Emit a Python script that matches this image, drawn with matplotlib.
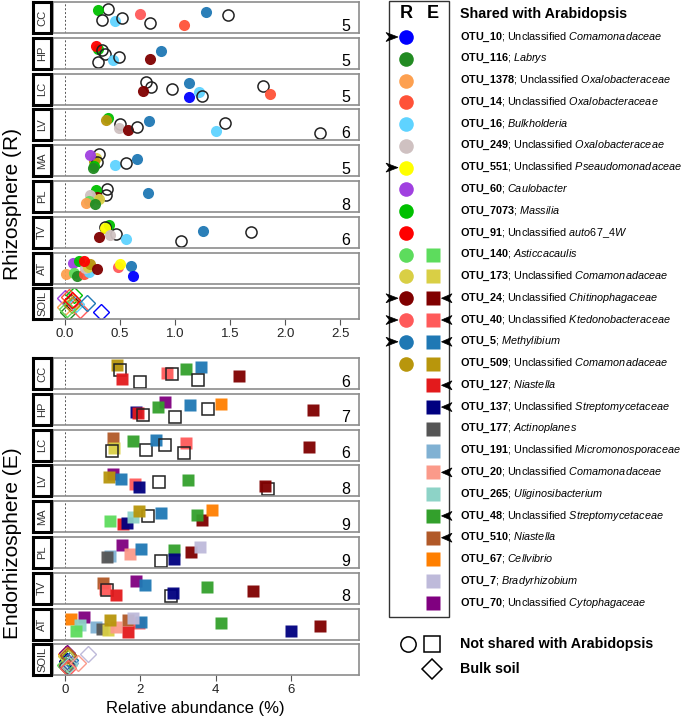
import numpy as np
import matplotlib
matplotlib.use("Agg")
import matplotlib.pyplot as plt
from matplotlib.patches import Rectangle, Polygon

plt.rcParams['font.family'] = 'Liberation Sans'
plt.rcParams['mathtext.fontset'] = 'custom'
plt.rcParams['mathtext.rm'] = 'Liberation Sans'
plt.rcParams['mathtext.it'] = 'Liberation Sans:italic'
plt.rcParams['mathtext.bf'] = 'Liberation Sans:bold'

# ---- data: (otu, relative abundance %, jitter within panel) ; "open" = not shared
sites = ["CC", "HP", "LC", "LV", "MA", "PL", "TV", "AT", "SOIL"]
r_counts = [5, 5, 5, 6, 5, 8, 6, None, None]
e_counts = [6, 7, 6, 8, 9, 9, 8, None, None]

R_CC = [("open", 0.39, 0.79), ("7073", 0.30, 0.73), ("open", 0.34, 0.43), ("16", 0.45, 0.38),
        ("open", 0.52, 0.49), ("40", 0.68, 0.61), ("open", 0.77, 0.31), ("14", 1.08, 0.27),
        ("5", 1.28, 0.67), ("open", 1.48, 0.57)]
R_HP = [("7073", 0.30, 0.65), ("91", 0.28, 0.73), ("open", 0.34, 0.62), ("open", 0.36, 0.47),
        ("open", 0.30, 0.23), ("16", 0.44, 0.28), ("open", 0.49, 0.39), ("24", 0.77, 0.33),
        ("5", 0.87, 0.56)]
R_LC = [("open", 0.74, 0.74), ("open", 0.78, 0.56), ("24", 0.71, 0.45), ("open", 0.97, 0.49),
        ("5", 1.13, 0.69), ("10", 1.13, 0.23), ("16", 1.22, 0.40), ("open", 1.24, 0.28),
        ("open", 1.80, 0.61), ("14", 1.86, 0.33)]
R_LV = [("7073", 0.39, 0.72), ("509", 0.37, 0.67), ("open", 0.50, 0.53), ("249", 0.49, 0.40),
        ("24", 0.57, 0.32), ("open", 0.65, 0.44), ("5", 0.76, 0.61), ("open", 1.45, 0.55),
        ("16", 1.37, 0.29), ("open", 2.32, 0.23)]
R_MA = [("open", 0.31, 0.73), ("173", 0.28, 0.58), ("509", 0.26, 0.50), ("open", 0.29, 0.45),
        ("7073", 0.26, 0.33), ("116", 0.25, 0.26), ("60", 0.23, 0.68), ("16", 0.45, 0.37),
        ("open", 0.55, 0.41), ("5", 0.65, 0.57)]
R_PL = [("open", 0.38, 0.74), ("open", 0.37, 0.56), ("7073", 0.28, 0.71), ("24", 0.29, 0.50),
        ("249", 0.23, 0.56), ("173", 0.31, 0.43), ("140", 0.22, 0.37), ("1378", 0.19, 0.30),
        ("116", 0.27, 0.25), ("5", 0.75, 0.62)]
R_TV = [("7073", 0.40, 0.73), ("open", 0.36, 0.68), ("551", 0.36, 0.64), ("open", 0.46, 0.46),
        ("249", 0.41, 0.41), ("24", 0.31, 0.35), ("16", 0.55, 0.28), ("open", 1.05, 0.23),
        ("5", 1.25, 0.55), ("open", 1.69, 0.51)]
R_AT = [("1378", 0.01, 0.30), ("60", 0.07, 0.68), ("140", 0.08, 0.34), ("116", 0.11, 0.23),
        ("7073", 0.13, 0.73), ("14", 0.17, 0.30), ("16", 0.22, 0.38), ("249", 0.18, 0.49),
        ("173", 0.21, 0.54), ("509", 0.23, 0.62), ("24", 0.29, 0.47), ("91", 0.17, 0.74),
        ("40", 0.48, 0.54), ("551", 0.50, 0.63), ("5", 0.60, 0.57), ("10", 0.62, 0.23)]
R_SOIL = [("60", 0.00, 0.70), ("7073", 0.08, 0.79), ("14", 0.04, 0.72), ("24", 0.05, 0.55),
          ("173", 0.08, 0.55), ("1378", 0.00, 0.40), ("116", 0.03, 0.25), ("40", 0.14, 0.30),
          ("16", 0.10, 0.50), ("509", 0.06, 0.45), ("5", 0.20, 0.52), ("10", 0.33, 0.23),
          ("140", 0.02, 0.35), ("91", 0.06, 0.62)]

E_CC = [("509", 1.37, 0.77), ("open", 1.46, 0.60), ("127", 1.50, 0.32), ("open", 1.99, 0.24),
        ("40", 2.71, 0.52), ("open", 2.85, 0.49), ("48", 3.20, 0.66), ("5", 3.62, 0.70),
        ("open", 3.52, 0.30), ("24", 4.62, 0.41)]
E_HP = [("70", 2.65, 0.75), ("48", 2.46, 0.57), ("137", 1.88, 0.42), ("127", 1.94, 0.37),
        ("open", 2.08, 0.31), ("open", 2.92, 0.26), ("5", 3.32, 0.65), ("open", 3.80, 0.52),
        ("67", 4.13, 0.68), ("24", 6.59, 0.47)]
E_LC = [("510", 1.27, 0.73), ("173", 1.30, 0.41), ("open", 1.25, 0.30), ("48", 1.81, 0.62),
        ("open", 2.15, 0.35), ("5", 2.40, 0.68), ("open", 2.64, 0.51), ("40", 3.22, 0.57),
        ("open", 3.16, 0.24), ("24", 6.47, 0.45)]
E_LV = [("70", 1.26, 0.71), ("509", 1.16, 0.61), ("5", 1.49, 0.56), ("40", 1.85, 0.40),
        ("137", 1.96, 0.29), ("open", 2.48, 0.46), ("48", 3.27, 0.52), ("open", 5.38, 0.24),
        ("24", 5.31, 0.35)]
E_MA = [("140", 1.19, 0.35), ("127", 1.53, 0.25), ("137", 1.64, 0.30), ("265", 1.80, 0.49),
        ("open", 2.19, 0.53), ("509", 1.96, 0.69), ("5", 2.55, 0.62), ("24", 3.63, 0.39),
        ("48", 3.51, 0.57), ("67", 3.89, 0.73)]
E_PL = [("191", 1.18, 0.39), ("177", 1.12, 0.35), ("70", 1.50, 0.74), ("20", 1.72, 0.45),
        ("5", 2.02, 0.62), ("open", 2.55, 0.23), ("48", 2.89, 0.58), ("137", 2.89, 0.28),
        ("24", 3.34, 0.51), ("7", 3.58, 0.67)]
E_TV = [("510", 1.00, 0.68), ("40", 1.07, 0.48), ("open", 1.12, 0.45), ("127", 1.34, 0.29),
        ("70", 1.87, 0.73), ("5", 2.12, 0.61), ("open", 2.82, 0.25), ("137", 2.87, 0.35),
        ("48", 3.76, 0.55), ("24", 4.98, 0.40)]
E_AT = [("67", 0.16, 0.67), ("70", 0.50, 0.73), ("265", 0.40, 0.46), ("140", 0.29, 0.29),
        ("191", 0.82, 0.40), ("177", 0.97, 0.35), ("173", 1.15, 0.32), ("20", 1.34, 0.41),
        ("509", 1.19, 0.62), ("510", 1.68, 0.62), ("40", 1.95, 0.52), ("5", 2.01, 0.56),
        ("7", 1.81, 0.70), ("127", 1.66, 0.24), ("48", 4.13, 0.54), ("137", 5.99, 0.27),
        ("24", 6.76, 0.45)]
E_SOIL = [("67", 0.02, 0.70), ("70", 0.05, 0.72), ("48", 0.08, 0.55), ("127", 0.02, 0.30),
          ("137", 0.06, 0.45), ("24", 0.04, 0.40), ("5", 0.12, 0.50), ("140", 0.00, 0.35),
          ("173", 0.03, 0.62), ("509", 0.10, 0.62), ("510", 0.07, 0.65), ("191", 0.13, 0.40),
          ("177", 0.06, 0.30), ("265", 0.10, 0.35), ("40", 0.08, 0.25), ("20", 0.35, 0.41),
          ("7", 0.62, 0.68)]

# legend entries
legend_otus = ["10", "116", "1378", "14", "16", "249", "551", "60", "7073", "91",
               "140", "173", "24", "40", "5", "509", "127", "137", "177", "191",
               "20", "265", "48", "510", "67", "7", "70"]
legend_prefix = ["Unclassified", "", "Unclassified", "Unclassified", "", "Unclassified",
                 "Unclassified", "", "", "Unclassified", "", "Unclassified", "Unclassified",
                 "Unclassified", "", "Unclassified", "", "Unclassified", "", "Unclassified",
                 "Unclassified", "", "Unclassified", "", "", "", "Unclassified"]
legend_taxon = ["Comamonadaceae", "Labrys", "Oxalobacteraceae", "Oxalobacteraceae",
                "Bulkholderia", "Oxalobacteraceae", "Pseaudomonadaceae", "Caulobacter",
                "Massilia", "auto67_4W", "Asticcacaulis", "Comamonadaceae",
                "Chitinophagaceae", "Ktedonobacteraceae", "Methylibium", "Comamonadaceae",
                "Niastella", "Streptomycetaceae", "Actinoplanes", "Micromonosporaceae",
                "Comamonadaceae", "Uliginosibacterium", "Streptomycetaceae", "Niastella",
                "Cellvibrio", "Bradyrhizobium", "Cytophagaceae"]
shared_R = legend_otus[:16]
shared_E = legend_otus[10:]
arrow_R = ["10", "551", "24", "40", "5"]
arrow_E = ["24", "40", "5", "127", "137", "20", "48", "510"]

colors = {
    "10": "#0000FF", "116": "#228B22", "1378": "#FDA050", "14": "#FF5238", "16": "#5FD3FF",
    "249": "#CFC1C1", "551": "#FFFF00", "60": "#A040E0", "7073": "#00C000", "91": "#FF0000",
    "140": "#5DDC5D", "173": "#D9CF45", "24": "#800000", "40": "#FF5A5A", "5": "#1F78B4",
    "509": "#B8960C", "127": "#E31A1C", "137": "#000080", "177": "#555555", "191": "#80B1D3",
    "20": "#FB9A8A", "265": "#8DD3C7", "48": "#33A02C", "510": "#B15928", "67": "#FF7F00",
    "7": "#BEBADA", "70": "#800080",
}

W, H = 685, 717
fig = plt.figure(figsize=(W / 100, H / 100), dpi=100)


def px_axes(x0, y0, w, h):
    return fig.add_axes([x0 / W, 1 - (y0 + h) / H, w / W, h / H])


def draw_block(panels, counts, top0, xlim, ticks, ticklabels, marker):
    for i, site in enumerate(sites):
        top = top0 + i * 35.8
        ax = px_axes(53, top, 306, 31)
        ax.set_xlim(xlim)
        ax.set_ylim(0, 1)
        ax.set_yticks([])
        for s in ax.spines.values():
            s.set_color("#8c8c8c")
            s.set_linewidth(1.2)
        ax.axvline(0, color="#555555", lw=0.7, ls=(0, (2, 2)), zorder=0)
        for otu, val, jit in panels[i]:
            if site == "SOIL":
                ax.plot(val, jit, marker="D", ms=8.5, mfc="none", mec=colors[otu], mew=1.0)
            elif otu == "open":
                ax.plot(val, jit, marker=marker, ms=8, mfc="none", mec="#222222", mew=1.1)
            else:
                ax.plot(val, jit, marker=marker, ms=8, mfc=colors[otu], mec="none", alpha=0.95)
        if counts[i] is not None:
            ax.text(0.97, 0.08, str(counts[i]), transform=ax.transAxes, ha="right",
                    va="baseline", fontsize=11.5)
        if site == "SOIL":
            ax.set_xticks(ticks)
            ax.set_xticklabels(ticklabels, fontsize=9.5, color="#222222")
            ax.tick_params(axis="x", length=4, color="#555555", pad=2)
        else:
            ax.set_xticks([])
        sax = px_axes(33, top, 18, 31)
        sax.set_xticks([])
        sax.set_yticks([])
        for s in sax.spines.values():
            s.set_linewidth(2.2)
            s.set_color("black")
        sax.text(0.5, 0.5, site, rotation=90, ha="center", va="center", fontsize=8,
                 color="#333333", transform=sax.transAxes)


draw_block([R_CC, R_HP, R_LC, R_LV, R_MA, R_PL, R_TV, R_AT, R_SOIL], r_counts, 2,
           (-0.109, 2.67), [0, 0.5, 1.0, 1.5, 2.0, 2.5],
           ["0.0", "0.5", "1.0", "1.5", "2.0", "2.5"], "o")
draw_block([E_CC, E_HP, E_LC, E_LV, E_MA, E_PL, E_TV, E_AT, E_SOIL], e_counts, 358,
           (-0.32, 7.8), [0, 2, 4, 6], ["0", "2", "4", "6"], "s")

fig.text(13 / W, 1 - 204 / H, "Rhizosphere (R)", rotation=90, ha="center", va="center",
         fontsize=15)
fig.text(13 / W, 1 - 543 / H, "Endorhizosphere (E)", rotation=90, ha="center", va="center",
         fontsize=15)
fig.text(195 / W, 1 - 709 / H, "Relative abundance (%)", ha="center", va="center",
         fontsize=12)

# ---- legend drawn in pixel coordinates
lax = fig.add_axes([0, 0, 1, 1])
lax.set_xlim(0, W)
lax.set_ylim(H, 0)
lax.axis("off")
lax.add_patch(Rectangle((389, 1), 60, 616, fill=False, ec="#333333", lw=1.0))
lax.text(406, 14, "R", ha="center", va="center", fontsize=13, fontweight="bold")
lax.text(433, 14, "E", ha="center", va="center", fontsize=13, fontweight="bold")
lax.text(460, 14, "Shared with Arabidopsis", ha="left", va="center", fontsize=10.3,
         fontweight="bold")

for i, otu in enumerate(legend_otus):
    y = 37 + i * 21.77
    if otu in shared_R:
        lax.plot(406, y, marker="o", ms=10.5, mfc=colors[otu], mec="none")
    if otu in shared_E:
        lax.plot(433, y, marker="s", ms=10.5, mfc=colors[otu], mec="none")
    if otu in arrow_R:
        lax.add_patch(Polygon([(398, y), (386, y - 4.5), (389.5, y), (386, y + 4.5)],
                              closed=True, fc="black", ec="black", lw=0.5))
    if otu in arrow_E:
        lax.add_patch(Polygon([(441.5, y), (452, y - 4.5), (449, y), (452, y + 4.5)],
                              closed=True, fc="black", ec="black", lw=0.5))
    tax = legend_taxon[i].replace("_", r"\_")
    label = r"$\mathbf{OTU\_%s}$; " % otu
    if legend_prefix[i]:
        label += legend_prefix[i] + " "
    label += r"$\mathit{%s}$" % tax
    lax.text(460, y, label, ha="left", va="center", fontsize=7.8)

lax.plot(408, 644, marker="o", ms=11, mfc="none", mec="black", mew=1.1)
lax.plot(432, 644, marker="s", ms=11, mfc="none", mec="black", mew=1.1)
lax.plot(432, 669, marker="D", ms=10, mfc="none", mec="black", mew=1.1)
lax.text(460, 644, "Not shared with Arabidopsis", ha="left", va="center", fontsize=10.3,
         fontweight="bold")
lax.text(460, 669, "Bulk soil", ha="left", va="center", fontsize=10.3, fontweight="bold")

fig.savefig("out.png", dpi=100)
